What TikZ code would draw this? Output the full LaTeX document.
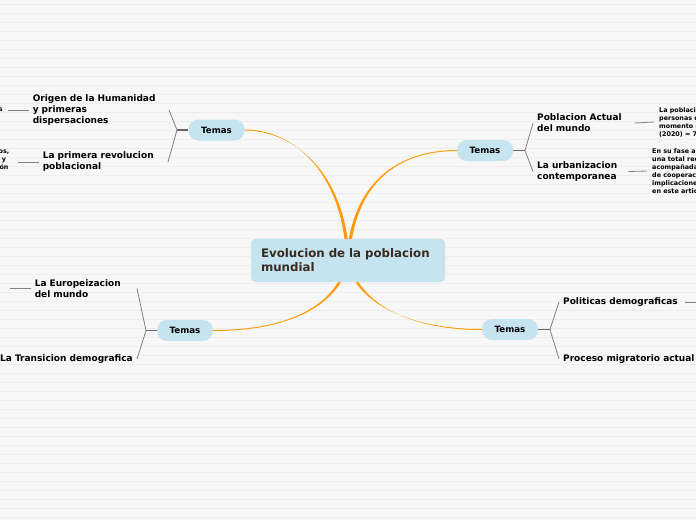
\documentclass[tikz,border=0pt]{standalone}
\usepackage{fontspec}
\setmainfont{DejaVu Sans}
\usetikzlibrary{positioning}
\definecolor{topicblue}{HTML}{C5E4F0}
\definecolor{branchorange}{HTML}{FF9A0A}
\definecolor{linegray}{HTML}{808080}
\definecolor{titlebrown}{HTML}{3B2A1E}
\definecolor{paper}{HTML}{F7F7F7}
\definecolor{stripegray}{HTML}{EEEEEE}

\tikzset{
  temas/.style={fill=topicblue, rounded corners=10pt, minimum width=56pt, minimum height=21pt, inner sep=0pt, font=\fontsize{8.7}{10}\selectfont\bfseries},
  titlebox/.style={fill=topicblue, rounded corners=4pt, minimum width=194pt, minimum height=43pt, inner xsep=10pt, text width=174pt, align=left, text=titlebrown, font=\fontsize{11.8}{14}\selectfont\bfseries},
  subtopic/.style={inner xsep=4pt, inner ysep=0pt, align=left, font=\fontsize{9}{11}\selectfont\bfseries},
  leaftext/.style={inner xsep=5pt, inner ysep=0pt, align=left, font=\fontsize{6.4}{8}\selectfont\bfseries},
  twig/.style={draw=linegray, line width=0.8pt},
  forkstub/.style={draw=linegray!80!black, line width=1.3pt},
  branch/.style={fill=branchorange}
}

\begin{document}
\begin{tikzpicture}[x=1pt, y=-1pt]
    \useasboundingbox (0,0) rectangle (696,520);
    \clip (0,0) rectangle (696,520);
    \fill[paper] (0,0) rectangle (696,520);
    \foreach \y in {4,13,...,520}
        \draw[stripegray, line width=0.7pt] (0,\y) -- (696,\y);

    % topics
    \node[temas] (temasTL) at (216.5,130) {Temas};
    \node[temas] (temasTR) at (485,150.5) {Temas};
    \node[temas] (temasBL) at (185,330.5) {Temas};
    \node[temas] (temasBR) at (510,329.5) {Temas};

    % central curves
    \coordinate (hub) at (348,261);
    \fill[branch] ([xshift=-1.6pt]hub) .. controls +(-3,-86) and +(51,0) .. ([yshift=0.5pt]temasTL.east)
        -- ([yshift=-0.5pt]temasTL.east) .. controls +(51,0) and +(-3,-86) .. ([xshift=1.6pt]hub) -- cycle;
    \fill[branch] ([xshift=-1.6pt]hub) .. controls +(4,-80) and +(-57,0) .. ([yshift=0.5pt]temasTR.west)
        -- ([yshift=-0.5pt]temasTR.west) .. controls +(-57,0) and +(4,-80) .. ([xshift=1.6pt]hub) -- cycle;
    \fill[branch] ([xshift=-1.6pt]hub) .. controls +(-10,44) and +(77,0) .. ([yshift=0.5pt]temasBL.east)
        -- ([yshift=-0.5pt]temasBL.east) .. controls +(77,0) and +(-10,44) .. ([xshift=1.6pt]hub) -- cycle;
    \fill[branch] ([xshift=-1.6pt]hub) .. controls +(10,44) and +(-70,0) .. ([yshift=0.5pt]temasBR.west)
        -- ([yshift=-0.5pt]temasBR.west) .. controls +(-70,0) and +(10,44) .. ([xshift=1.6pt]hub) -- cycle;

    \node[titlebox] (title) at (348,260.5) {Evolucion de la poblacion\\mundial};

    % top left
    \coordinate (forkTL) at (177,130);
    \node[subtopic, anchor=east, text width=132pt] (origen) at (169,110) {Origen de la Humanidad\\y primeras\\dispersaciones};
    \node[subtopic, anchor=east, text width=121pt] (primera) at (168,162) {La primera revolucion\\poblacional};
    \node[leaftext, anchor=east] (leafOrigen) at (8,110) {s};
    \node[leaftext, anchor=east, align=center, inner xsep=8.5pt] (leafPrimera) at (18,160) {os,\\y\\ón};
    \draw[forkstub] (temasTL.west) -- (forkTL);
    \draw[twig] (forkTL) -- (origen.east);
    \draw[twig] (forkTL) -- (primera.east);
    \draw[twig] (origen.west) -- (leafOrigen.east);
    \draw[twig] (primera.west) -- ([yshift=-2pt]leafPrimera.east);

    % top right
    \coordinate (forkTR) at (525,150.5);
    \node[subtopic, anchor=west, text width=93pt] (actual) at (533,123) {Poblacion Actual\\del mundo};
    \node[subtopic, anchor=west, text width=87pt] (urbana) at (533,171.5) {La urbanizacion\\contemporanea};
    \node[leaftext, anchor=west] (leafActual) at (654,122) {La poblaci\\personas d\\momento d\\(2020) ≈ 7};
    \node[leaftext, anchor=west] (leafUrbana) at (647,171) {En su fase a\\una total rec\\acompañada\\de cooperac\\implicacione\\en este artic};
    \draw[forkstub] (temasTR.east) -- (forkTR);
    \draw[twig] (forkTR) -- (actual.west);
    \draw[twig] (forkTR) -- (urbana.west);
    \draw[twig] (actual.east) -- (leafActual.west);
    \draw[twig] (urbana.east) -- (leafUrbana.west);

    % bottom left
    \coordinate (forkBL) at (146,330.5);
    \node[subtopic, anchor=east, text width=98pt] (europa) at (137,288.5) {La Europeizacion\\del mundo};
    \node[subtopic, anchor=east] (transicion) at (137,359) {La Transicion demografica};
    \coordinate (leafEuropa) at (10,288.5);
    \draw[forkstub] (temasBL.west) -- (forkBL);
    \draw[twig] (forkBL) -- (europa.east);
    \draw[twig] (forkBL) -- (transicion.east);
    \draw[twig] (europa.west) -- (leafEuropa);

    % bottom right
    \coordinate (forkBR) at (550,329.5);
    \node[subtopic, anchor=west, text width=118pt] (politicas) at (559,302) {Politicas demograficas};
    \node[subtopic, anchor=west] (proceso) at (559,359) {Proceso migratorio actual};
    \coordinate (leafPoliticas) at (696,302);
    \draw[forkstub] (temasBR.east) -- (forkBR);
    \draw[twig] (forkBR) -- (politicas.west);
    \draw[twig] (forkBR) -- (proceso.west);
    \draw[twig] (politicas.east) -- (leafPoliticas);
\end{tikzpicture}
\end{document}
